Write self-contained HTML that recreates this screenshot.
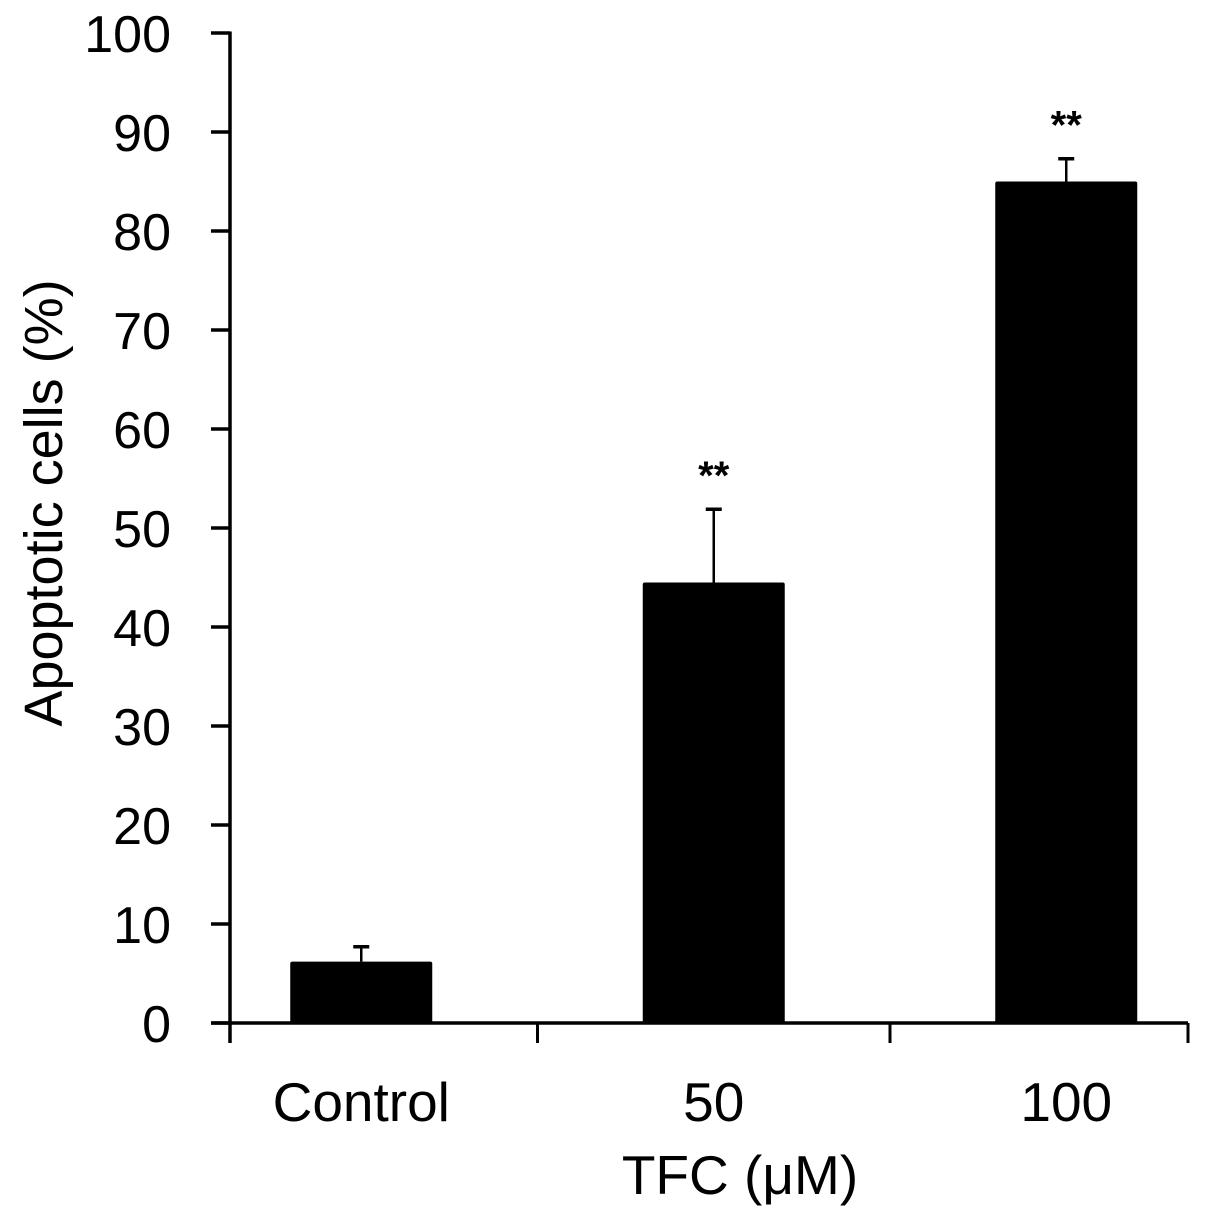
<!DOCTYPE html>
<html><head><meta charset="utf-8"><style>
html,body{margin:0;padding:0;background:#fff}
svg{display:block}
text{font-family:"Liberation Sans",Arial,sans-serif;fill:#000}
</style></head><body>
<svg width="1205" height="1214" viewBox="0 0 1205 1214">
<g id="chart"></g>
</svg>
<script>
const categories = ["Control","50","100"];
const values = [6.2, 44.5, 85.0];
const errors = [1.5, 7.4, 2.3];
const sigLabels = ["", "**", "**"];
const yTicks = [0,10,20,30,40,50,60,70,80,90,100];

const NS="http://www.w3.org/2000/svg";
const g=document.getElementById('chart');
const x0=230, x1=1188, y0=1023, yTop=33;
const y=v=>y0-(v/100)*(y0-yTop);
const bandStart=185, step=352.5;
const xc=i=>bandStart+(i+0.5)*step;
const barW=142;
function mk(tag,attrs,name,text){const e=document.createElementNS(NS,tag);for(const k in attrs)e.setAttribute(k,attrs[k]);


if(text!==undefined)e.textContent=text;g.appendChild(e);return e;}

categories.forEach((c,i)=>{
  const cx=xc(i);
  const top=y(values[i]);
  mk('rect',{x:cx-barW/2,y:top,width:barW,height:y0-top,fill:'#000',rx:2},'bar-'+c.toLowerCase());
  const et=y(values[i]+errors[i]);
  mk('line',{x1:cx,x2:cx,y1:top,y2:et,stroke:'#000','stroke-width':2.5},'error-bar-'+c.toLowerCase());
  mk('line',{x1:cx-8,x2:cx+8,y1:et,y2:et,stroke:'#000','stroke-width':3.5},'error-cap-'+c.toLowerCase());
  if(sigLabels[i]) mk('text',{x:cx,y:et-20,'text-anchor':'middle','font-size':40,'font-weight':'bold'},'significance-'+c.toLowerCase(),sigLabels[i]);
  mk('text',{x:cx,y:1121,'text-anchor':'middle','font-size':55},'x-label-'+c.toLowerCase(),c);
});
mk('line',{x1:x0,x2:x0,y1:yTop-1.5,y2:1043,stroke:'#000','stroke-width':3.5},'y-axis');
yTicks.forEach(t=>{
  mk('line',{x1:211,x2:x0,y1:y(t),y2:y(t),stroke:'#000','stroke-width':3.5},'y-tick-'+t);
  mk('text',{x:171,y:y(t)+19,'text-anchor':'end','font-size':52},'y-tick-label-'+t,String(t));
});
mk('line',{x1:211,x2:x1,y1:y0,y2:y0,stroke:'#000','stroke-width':3.5},'x-axis');
[x0, bandStart+step, bandStart+2*step, x1].forEach((b,i)=>{
  mk('line',{x1:b,x2:b,y1:y0,y2:1043,stroke:'#000','stroke-width':3},'x-tick-'+i);
});
mk('text',{x:740,y:1194,'text-anchor':'middle','font-size':55},'x-axis-title','TFC (μM)');
mk('text',{x:0,y:0,'text-anchor':'middle','font-size':54,transform:'translate(62,503) rotate(-90)'},'y-axis-title','Apoptotic cells (%)');
</script>
</body></html>
